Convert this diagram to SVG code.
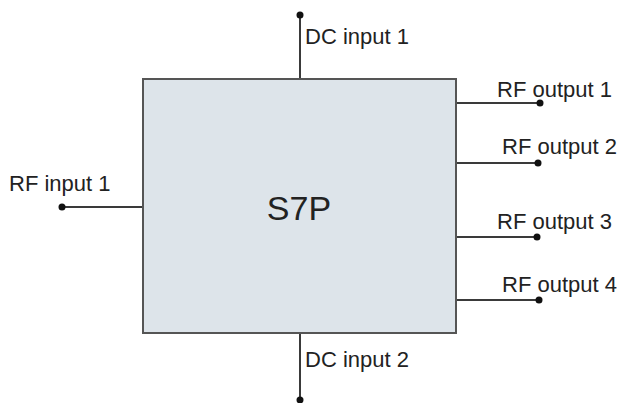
<svg xmlns="http://www.w3.org/2000/svg" width="620" height="403" viewBox="0 0 620 403">
<style>
.l{stroke:#3a3a3a;stroke-width:2;fill:none}
.d{fill:#111}
text{font-family:"Liberation Sans",Arial,sans-serif;fill:#222}
.t{font-size:22px}
</style>
<rect width="620" height="403" fill="#fff"/>
<g id="connectors">
<path class="l" d="M300 15V79"/>
<path class="l" d="M300 333V400"/>
<path class="l" d="M62 207H143"/>
<path class="l" d="M456 103H540"/>
<path class="l" d="M456 163H538"/>
<path class="l" d="M456 237H537"/>
<path class="l" d="M456 300H539"/>
<circle class="d" cx="300" cy="15" r="3.5"/>
<circle class="d" cx="300" cy="400" r="3.5"/>
<circle class="d" cx="62" cy="207" r="3.5"/>
<circle class="d" cx="540" cy="103" r="3.5"/>
<circle class="d" cx="538" cy="163" r="3.5"/>
<circle class="d" cx="537" cy="237" r="3.5"/>
<circle class="d" cx="539" cy="300" r="3.5"/>
</g>
<g id="s7p">
<rect x="143" y="79" width="313" height="254" fill="#dde4ea" stroke="#555" stroke-width="2"/>
<text x="299" y="220" font-size="34" text-anchor="middle">S7P</text>
</g>
<g id="dc1"><text class="t" x="305" y="44">DC input 1</text></g>
<g id="dc2"><text class="t" x="305" y="367">DC input 2</text></g>
<g id="rfin1"><text class="t" x="9" y="191">RF input 1</text></g>
<g id="rfout1"><text class="t" x="497" y="97">RF output 1</text></g>
<g id="rfout2"><text class="t" x="502" y="154">RF output 2</text></g>
<g id="rfout3"><text class="t" x="497" y="229">RF output 3</text></g>
<g id="rfout4"><text class="t" x="502" y="292">RF output 4</text></g>
</svg>
